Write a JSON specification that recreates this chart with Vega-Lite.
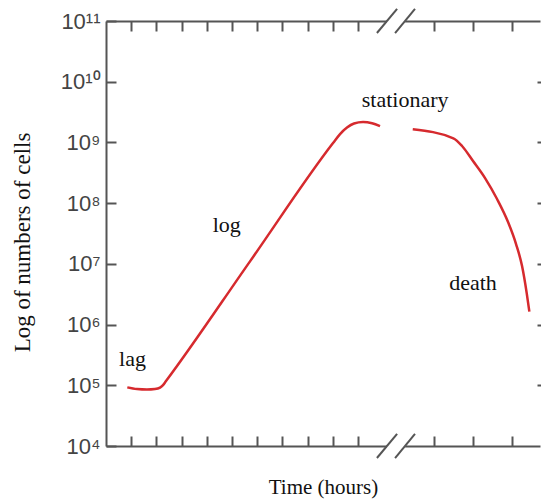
{
  "$schema": "https://vega.github.io/schema/vega-lite/v6.json",
  "width": 434,
  "height": 425,
  "autosize": {"type": "none"},
  "padding": {"left": 106, "top": 21, "right": 1, "bottom": 53},
  "background": "white",
  "config": {
    "view": {"stroke": null},
    "axis": {"domainColor": "#555", "domainWidth": 2, "tickColor": "#555", "tickWidth": 2, "grid": false}
  },
  "datasets": {
    "curve": [
      {"segment": "growth", "time": 0.845, "cells": 92300},
      {"segment": "growth", "time": 1.23, "cells": 86500},
      {"segment": "growth", "time": 1.627, "cells": 84900},
      {"segment": "growth", "time": 1.944, "cells": 86500},
      {"segment": "growth", "time": 2.143, "cells": 91600},
      {"segment": "growth", "time": 2.262, "cells": 100700},
      {"segment": "growth", "time": 2.381, "cells": 117200},
      {"segment": "growth", "time": 5.714, "cells": 10990000},
      {"segment": "growth", "time": 9.008, "cells": 977000000},
      {"segment": "growth", "time": 9.286, "cells": 1374000000},
      {"segment": "growth", "time": 9.563, "cells": 1760000000},
      {"segment": "growth", "time": 9.841, "cells": 2050000000},
      {"segment": "growth", "time": 10.198, "cells": 2170000000},
      {"segment": "growth", "time": 10.556, "cells": 2070000000},
      {"segment": "growth", "time": 10.873, "cells": 1860000000},
      {"segment": "decline", "time": 12.171, "cells": 1644000000},
      {"segment": "decline", "time": 13.782, "cells": 1170000000},
      {"segment": "decline", "time": 14.127, "cells": 873000000},
      {"segment": "decline", "time": 14.563, "cells": 494000000},
      {"segment": "decline", "time": 15.04, "cells": 259000000},
      {"segment": "decline", "time": 15.516, "cells": 117000000},
      {"segment": "decline", "time": 15.952, "cells": 48900000},
      {"segment": "decline", "time": 16.27, "cells": 21200000},
      {"segment": "decline", "time": 16.508, "cells": 9200000},
      {"segment": "decline", "time": 16.694, "cells": 3270000},
      {"segment": "decline", "time": 16.798, "cells": 1630000}
    ],
    "phases": [
      {"phase": "lag", "time": 1.05, "cells": 207000},
      {"phase": "log", "time": 4.79, "cells": 33800000},
      {"phase": "stationary", "time": 11.87, "cells": 3870000000},
      {"phase": "death", "time": 14.56, "cells": 3700000}
    ],
    "gaps": [
      {"t1": 11.15, "t2": 11.87, "cells": 100000000000},
      {"t1": 11.15, "t2": 11.87, "cells": 10000}
    ],
    "slashes": [
      {"t1": 10.75, "t2": 11.55, "c1": 63400000000, "c2": 158000000000},
      {"t1": 11.47, "t2": 12.26, "c1": 63400000000, "c2": 158000000000},
      {"t1": 10.75, "t2": 11.55, "c1": 6340, "c2": 15800},
      {"t1": 11.47, "t2": 12.26, "c1": 6340, "c2": 15800}
    ]
  },
  "layer": [
    {
      "data": {"name": "curve"},
      "mark": {"type": "line", "color": "#d62a2e", "strokeWidth": 2.5, "interpolate": "monotone"},
      "encoding": {
        "x": {
          "field": "time", "type": "quantitative",
          "scale": {"domain": [0, 17.22], "nice": false, "zero": false},
          "axis": {
            "orient": "bottom", "values": [1, 2, 3, 4, 5, 6, 7, 8, 9, 10, 13, 14.55, 16.1],
            "labels": false, "tickSize": -10,
            "title": "Time (hours)", "titleFont": "Liberation Serif", "titleFontSize": 21,
            "titleFontWeight": "normal", "titleColor": "#111",
            "titleX": 217, "titleY": 47, "titleBaseline": "alphabetic", "titleAlign": "center"
          }
        },
        "y": {
          "field": "cells", "type": "quantitative",
          "scale": {"type": "log", "domain": [10000, 100000000000], "nice": false},
          "axis": {
            "orient": "left",
            "values": [10000, 100000, 1000000, 10000000, 100000000, 1000000000, 10000000000, 100000000000],
            "tickSize": -10,
            "labelExpr": "'10' + ['⁴','⁵','⁶','⁷','⁸','⁹','¹⁰','¹¹'][round(log(datum.value)/LN10) - 4]",
            "labelFont": "Liberation Sans", "labelFontSize": 22, "labelColor": "#444", "labelPadding": 16,
            "title": "Log of numbers of cells", "titleFont": "Liberation Serif", "titleFontSize": 23,
            "titleFontWeight": "normal", "titleColor": "#111",
            "titleX": -84, "titleY": 221, "titleAngle": -90, "titleBaseline": "middle", "titleAlign": "center"
          }
        },
        "detail": {"field": "segment", "type": "nominal"}
      }
    },
    {
      "data": {"name": "phases"},
      "mark": {"type": "text", "font": "Liberation Serif", "fontSize": 22, "color": "#111", "align": "center", "baseline": "alphabetic"},
      "encoding": {
        "x": {
          "field": "time", "type": "quantitative",
          "scale": {"domain": [0, 17.22], "nice": false, "zero": false},
          "axis": {"orient": "top", "values": [1, 2, 3, 4, 5, 6, 7, 8, 9, 10, 13, 14.55, 16.1], "labels": false, "tickSize": -10, "title": null}
        },
        "y": {
          "field": "cells", "type": "quantitative",
          "scale": {"type": "log", "domain": [10000, 100000000000], "nice": false},
          "axis": {"orient": "right", "values": [100000, 1000000, 10000000, 100000000, 1000000000, 10000000000], "labels": false, "domain": false, "tickSize": -9, "offset": 6, "title": null}
        },
        "text": {"field": "phase", "type": "nominal"}
      }
    },
    {
      "data": {"name": "gaps"},
      "mark": {"type": "rule", "color": "white", "strokeWidth": 5},
      "encoding": {
        "x": {"field": "t1", "type": "quantitative", "scale": {"domain": [0, 17.22], "nice": false, "zero": false}, "axis": null},
        "x2": {"field": "t2"},
        "y": {"field": "cells", "type": "quantitative", "scale": {"type": "log", "domain": [10000, 100000000000], "nice": false}, "axis": null}
      }
    },
    {
      "data": {"name": "slashes"},
      "mark": {"type": "rule", "color": "#555", "strokeWidth": 2},
      "encoding": {
        "x": {"field": "t1", "type": "quantitative", "scale": {"domain": [0, 17.22], "nice": false, "zero": false}, "axis": null},
        "x2": {"field": "t2"},
        "y": {"field": "c1", "type": "quantitative", "scale": {"type": "log", "domain": [10000, 100000000000], "nice": false}, "axis": null},
        "y2": {"field": "c2"}
      }
    }
  ],
  "resolve": {"axis": {"x": "independent", "y": "independent"}}
}
